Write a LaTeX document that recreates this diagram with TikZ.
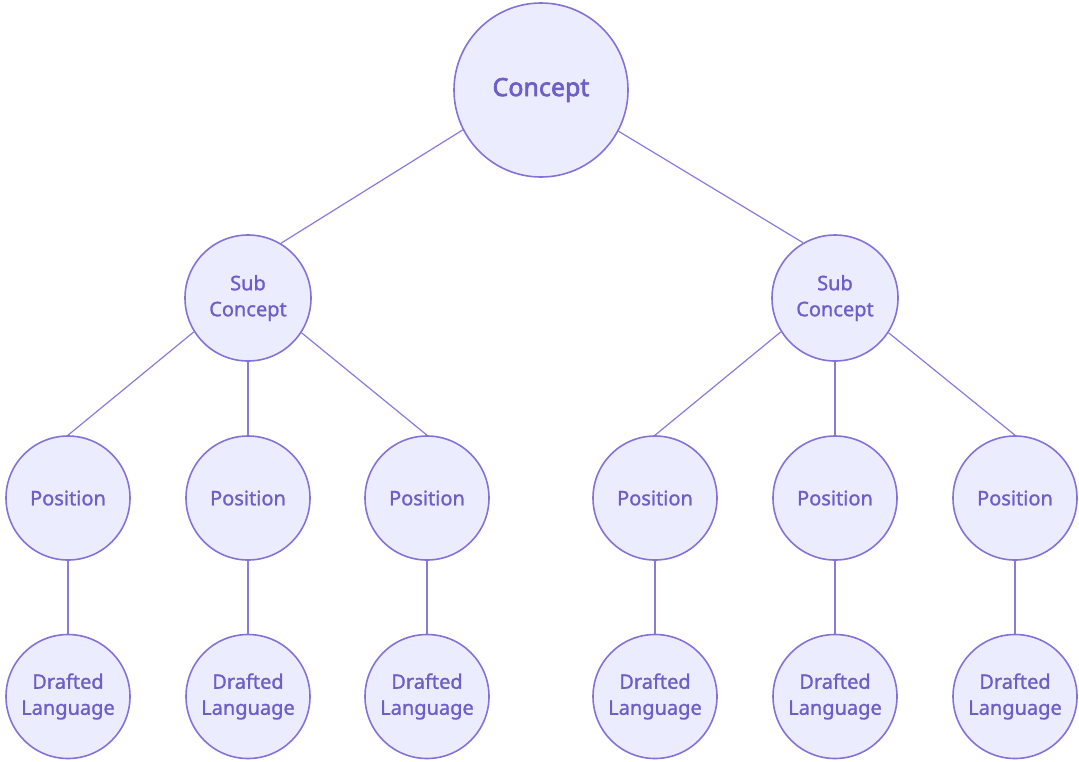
\documentclass[tikz,border=0pt]{standalone}
\usepackage{fontspec}
\setmainfont{Noto Sans}
\newfontfamily\labelfont[FakeBold=1.3]{Noto Sans}
\newfontfamily\headfont[FakeBold=2.6]{Noto Sans}
\definecolor{nodefill}{HTML}{ECECFF}
\definecolor{nodeline}{HTML}{8572D8}
\definecolor{nodetext}{HTML}{6E5FC8}
\definecolor{edgeline}{HTML}{8A7BDB}
\begin{document}
\begin{tikzpicture}[x=1pt,y=-1pt,
  circ/.style={circle,draw=nodeline,fill=nodefill,line width=1.6pt,inner sep=0pt,
    text=nodetext,align=center,font=\labelfont\fontsize{20}{26}\selectfont},
  top/.style={circ,minimum size=174pt,font=\headfont\fontsize{25}{28}\selectfont},
  sub/.style={circ,minimum size=126pt},
  leaf/.style={circ,minimum size=124pt},
  edge/.style={draw=edgeline,line width=1.2pt}]
\useasboundingbox (0,0) rectangle (1079,761);

% root and the two sub concepts
\node[top] (c) at (541,90) {Concept};
\node[sub] (sl) at (248,298) {Sub\\Concept};
\node[sub] (sr) at (835,298) {Sub\\Concept};

% positions and their drafted language
\foreach \n/\x in {p1/68,p2/248,p3/427,p4/655,p5/835,p6/1015}{
  \node[leaf] (\n) at (\x,498) {Position};
}
\foreach \n/\x in {d1/68,d2/248,d3/427,d4/655,d5/835,d6/1015}{
  \node[leaf] (\n) at (\x,696.5) {Drafted\\Language};
}

\path[edge] (c.207.4) -- (sl.59.3);
\path[edge] (c.332.6) -- (sr.120.7);

\path[edge] (sl.212.5) -- (p1.90);
\path[edge] (sl.270) -- (p2.90);
\path[edge] (sl.327.5) -- (p3.90);
\path[edge] (sr.212.5) -- (p4.90);
\path[edge] (sr.270) -- (p5.90);
\path[edge] (sr.327.5) -- (p6.90);

\foreach \i in {1,...,6}{
  \path[edge] (p\i.270) -- (d\i.90);
}
\end{tikzpicture}
\end{document}
